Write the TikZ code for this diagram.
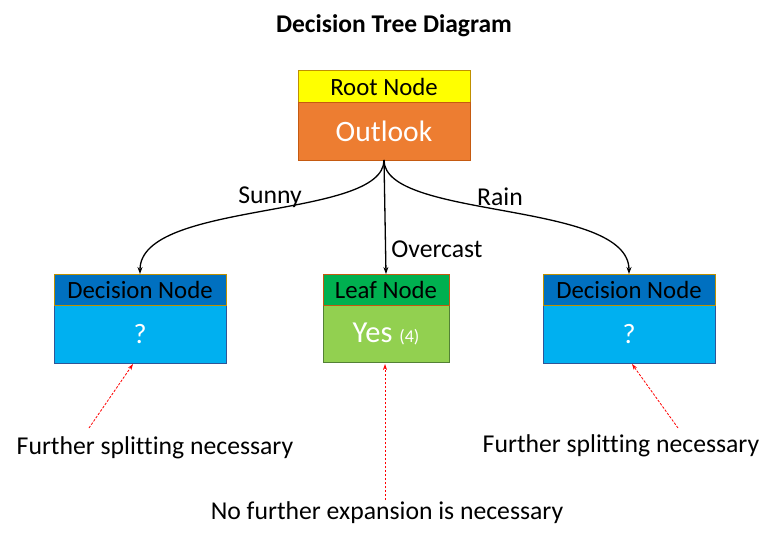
\documentclass[tikz,border=0pt]{standalone}
\usepackage{fontspec}
\setmainfont[Ligatures=NoCommon]{Carlito}
\usetikzlibrary{arrows.meta}
\definecolor{cyellow}{HTML}{FFFF00}
\definecolor{corange}{HTML}{ED7D31}
\definecolor{cblueh}{HTML}{0070C0}
\definecolor{ccyan}{HTML}{00B0F0}
\definecolor{cgreenh}{HTML}{00B050}
\definecolor{cgreenb}{HTML}{92D050}
\definecolor{bgold}{HTML}{BF9000}
\definecolor{borange}{HTML}{C55A11}
\definecolor{bblue}{HTML}{2F5597}
\definecolor{bgreen}{HTML}{538135}
\begin{document}
\begin{tikzpicture}[x=1pt,y=-1pt,
  box/.style={draw, inner sep=0pt, outer sep=0pt, line width=1pt, anchor=north west},
  hdr/.style={box, minimum height=31pt, font=\fontsize{24.8}{29}\selectfont},
  bdy/.style={box, minimum height=58pt, text=white},
  lbl/.style={font=\fontsize{25.7}{30}\selectfont, inner sep=0pt},
  arr/.style={-{Stealth[length=7pt,width=5pt]}, line width=1.3pt},
  redarr/.style={-{Stealth[length=6pt,width=4pt]}, red, dash pattern=on 2.5pt off 1.5pt, line width=0.8pt}]
\useasboundingbox (0,0) rectangle (774,535);
\node[font=\bfseries\fontsize{25.5}{30}\selectfont, inner sep=0pt] (title) at (394,26) {Decision Tree Diagram};
% root
\node[hdr, fill=cyellow, draw=bgold, minimum width=172pt] (rootH) at (298,71) {Root Node};
\node[bdy, fill=corange, draw=borange, minimum width=172pt, font=\fontsize{29.6}{34}\selectfont] (rootB) at (298,102) {Outlook};
% left decision
\node[bdy, fill=ccyan, draw=bblue, minimum width=172pt, font=\fontsize{28}{32}\selectfont] (decLB) at (54,305) {?};
\node[hdr, fill=cblueh, draw=bgold, minimum width=172pt] (decLH) at (54,274) {Decision Node};
% leaf
\node[bdy, fill=cgreenb, draw=bgreen, minimum width=126pt, minimum height=57pt, font=\fontsize{30.5}{35}\selectfont] (leafB) at (323,305) {Yes {\fontsize{18}{21}\selectfont (4)}};
\node[hdr, fill=cgreenh, draw=borange, minimum width=126pt] (leafH) at (323,274) {Leaf Node};
% right decision
\node[bdy, fill=ccyan, draw=bblue, minimum width=172pt, font=\fontsize{28}{32}\selectfont] (decRB) at (543,305) {?};
\node[hdr, fill=cblueh, draw=bgold, minimum width=172pt] (decRH) at (543,274) {Decision Node};
% connectors
\draw[arr] (rootB.south) .. controls (384,220) and (140,200) .. (decLH.north);
\draw[arr] (rootB.south) -- (leafH.north);
\draw[arr] (rootB.south) .. controls (384,220) and (629,200) .. (decRH.north);
\node[lbl] (sunny) at (270,197) {Sunny};
\node[lbl] (overcast) at (437,249) {Overcast};
\node[lbl] (rain) at (500,197) {Rain};
% annotations
\node[lbl] (noteL) at (155,448) {Further splitting necessary};
\node[lbl] (noteR) at (621,446) {Further splitting necessary};
\node[lbl] (noteM) at (387,513) {No further expansion is necessary};
\coordinate (lS) at (89,428);
\coordinate (lE) at (133,364);
\coordinate (mS) at (385,500);
\coordinate (mE) at (385,364);
\coordinate (rS) at (678,428);
\coordinate (rE) at (632,364);
\draw[redarr] (lS) -- (lE);
\draw[redarr] (mS) -- (mE);
\draw[redarr] (rS) -- (rE);
\end{tikzpicture}
\end{document}
